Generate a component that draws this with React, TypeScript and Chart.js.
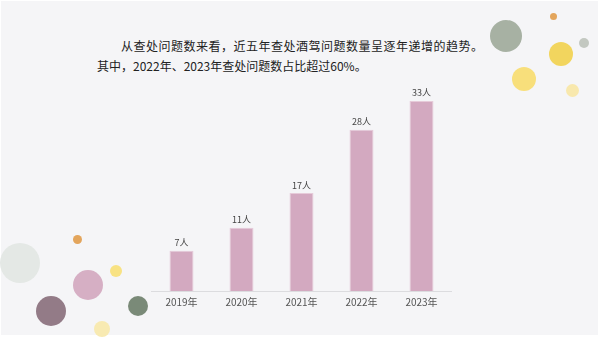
import React, { useEffect, useRef } from "react";
import { Chart, registerables } from "chart.js";

Chart.register(...registerables);

const categories = ["2019年", "2020年", "2021年", "2022年", "2023年"];
const values = [7, 11, 17, 28, 33];
const unit = "人";
const line1 = "从查处问题数来看，近五年查处酒驾问题数量呈逐年递增的趋势。";
const line2 = "其中，2022年、2023年查处问题数占比超过60%。";

const circles = [
  { x: 505.7, y: 36, r: 16, c: "#a7b1a3" },
  { x: 553.3, y: 16.7, r: 3.5, c: "#e3a55c" },
  { x: 584, y: 42.7, r: 5, c: "#c3c8c1" },
  { x: 561.3, y: 54.3, r: 12, c: "#f2d55e" },
  { x: 523.7, y: 78.7, r: 12, c: "#f8df7b" },
  { x: 572.7, y: 90, r: 6.5, c: "#f8e8ad" },
  { x: 20, y: 263.3, r: 20, c: "#e4e8e5" },
  { x: 77.7, y: 239, r: 4.5, c: "#e3a55c" },
  { x: 115.7, y: 270.7, r: 6, c: "#f8e283" },
  { x: 87.7, y: 285.3, r: 15, c: "#d6afc4" },
  { x: 51, y: 311, r: 15, c: "#937b87" },
  { x: 137.7, y: 306, r: 10, c: "#7a8a78" },
  { x: 101.7, y: 329, r: 8, c: "#f8eab2" },
];

const labelPlugin = {
  id: "barLabels",
  afterDatasetsDraw(chart: any) {
    const ctx = chart.ctx;
    const meta = chart.getDatasetMeta(0);
    ctx.save();
    ctx.font = '9px "Noto Sans CJK SC", sans-serif';
    ctx.fillStyle = "#444";
    ctx.textAlign = "center";
    ctx.textBaseline = "middle";
    meta.data.forEach((bar: any, i: number) => {
      ctx.fillText(values[i] + unit, bar.x, bar.y - 8);
    });
    ctx.restore();
  },
};

export default function App() {
  const ref = useRef<HTMLCanvasElement>(null);
  useEffect(() => {
    const chart = new Chart(ref.current!, {
      type: "bar",
      data: {
        labels: categories,
        datasets: [
          {
            data: values,
            backgroundColor: "#d3a9c0",
            borderColor: "#e6cbd9",
            borderWidth: 1,
            categoryPercentage: 1,
            barPercentage: 0.4,
          },
        ],
      },
      options: {
        animation: false,
        responsive: false,
        maintainAspectRatio: false,
        layout: { padding: { left: 151.5, right: 148.5, top: 60.7, bottom: 24 } },
        plugins: { legend: { display: false }, tooltip: { enabled: false } },
        scales: {
          x: {
            grid: { display: false, drawTicks: false },
            border: { display: true, color: "#dcdcdf", width: 1 },
            ticks: {
              padding: 5,
              color: "#555",
              font: { size: 10, family: '"Noto Sans CJK SC", sans-serif' },
            },
          },
          y: { display: false, min: 0, max: 40 },
        },
      },
      plugins: [labelPlugin],
    });
    return () => chart.destroy();
  }, []);

  return (
    <div
      style={{
        position: "fixed",
        left: 0,
        top: 0,
        width: 600,
        height: 337,
        background: "#ffffff",
        overflow: "hidden",
        fontFamily: '"Noto Sans CJK SC", sans-serif',
      }}
    >
      <div
        style={{
          position: "absolute",
          left: 1,
          top: 1,
          width: 597,
          height: 334,
          background: "#f5f5f7",
        }}
      />
      {circles.map((c, i) => (
        <div
          key={i}
          style={{
            position: "absolute",
            left: c.x - c.r,
            top: c.y - c.r,
            width: c.r * 2,
            height: c.r * 2,
            borderRadius: "50%",
            background: c.c,
          }}
        />
      ))}
      <div
        style={{
          position: "absolute",
          left: 121,
          top: 35.7,
          fontSize: 12,
          lineHeight: "20px",
          letterSpacing: "0.5px",
          color: "#222",
          whiteSpace: "nowrap",
        }}
      >
        {line1}
      </div>
      <div
        style={{
          position: "absolute",
          left: 97,
          top: 56,
          fontSize: 12,
          lineHeight: "20px",
          color: "#222",
          whiteSpace: "nowrap",
        }}
      >
        {line2}
      </div>
      <canvas
        ref={ref}
        width={600}
        height={337}
        style={{ position: "absolute", left: 0, top: 0, width: 600, height: 337 }}
      />
    </div>
  );
}
